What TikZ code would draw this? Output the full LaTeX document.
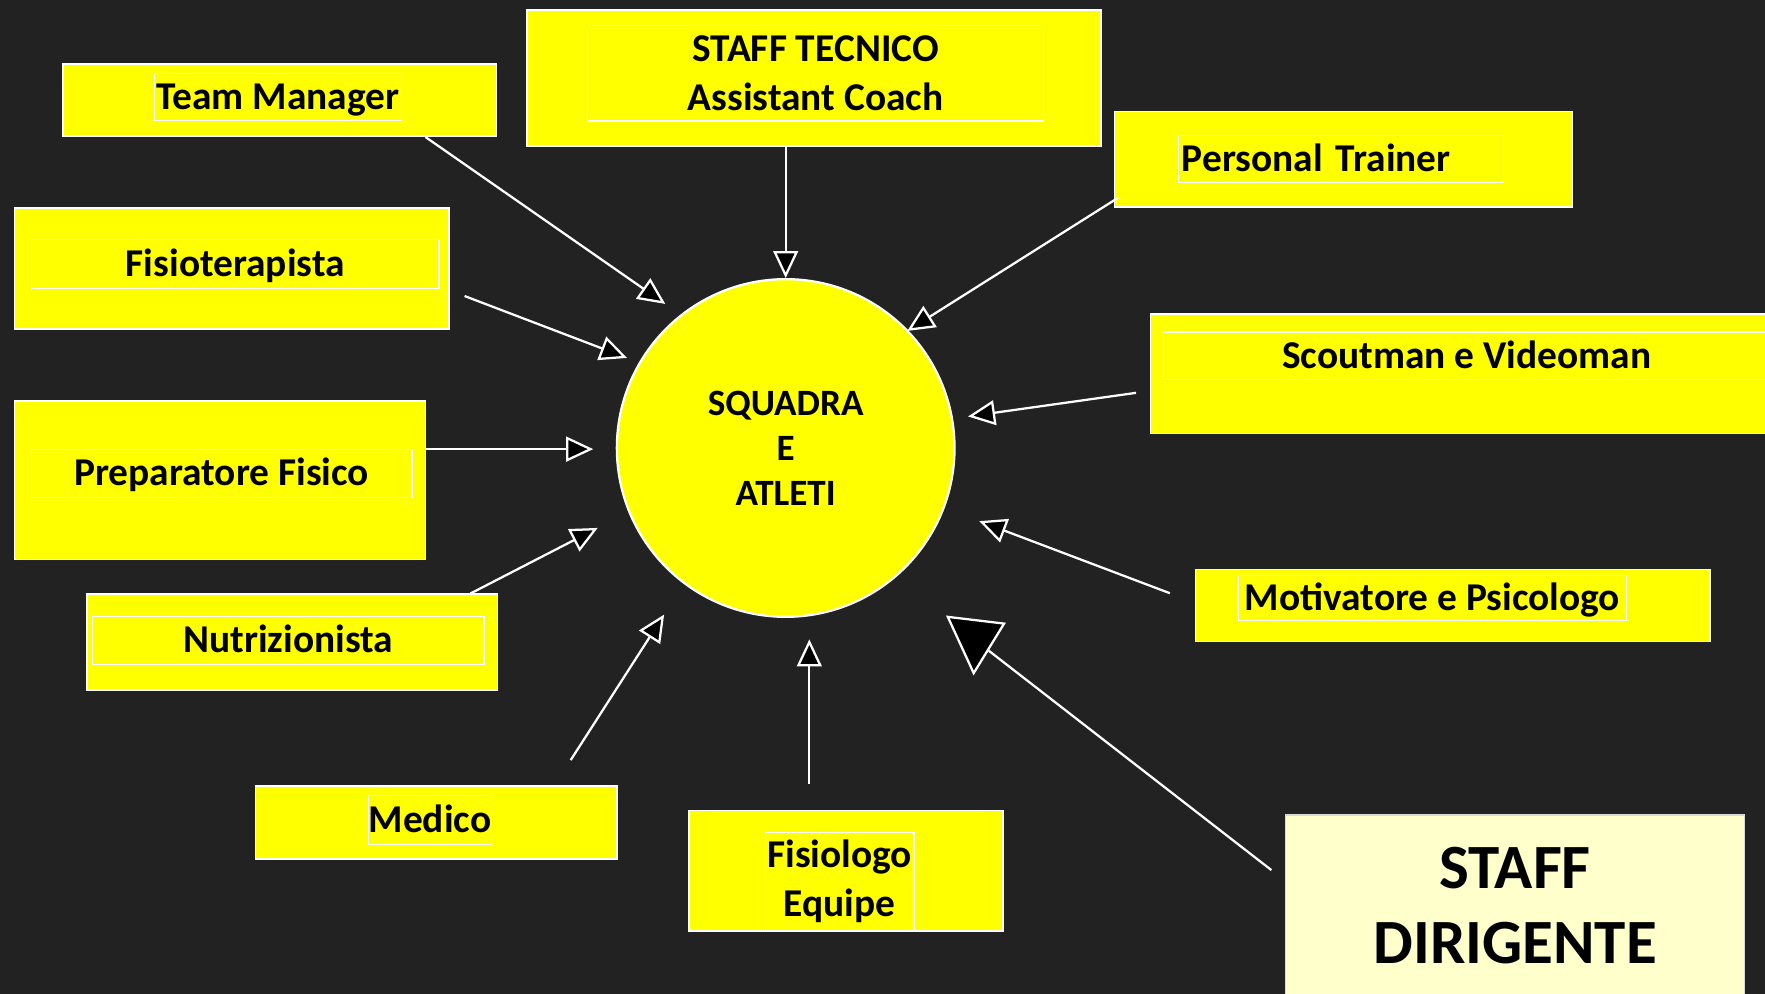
\documentclass[tikz,border=0pt]{standalone}
\usepackage{fontspec}
\setmainfont{Carlito}
\usetikzlibrary{arrows.meta,calc}
\definecolor{board}{RGB}{34,34,34}
\definecolor{postit}{RGB}{255,255,0}
\definecolor{cream}{RGB}{255,255,204}

\begin{document}
\begin{tikzpicture}[x=1pt,y=1pt,
  outer/.style={draw=white,line width=1.5pt,fill=postit,inner sep=0pt},
  inner/.style={draw=white,line width=1pt,inner sep=0pt,font=\fontsize{35}{43}\selectfont\bfseries,align=center},
  oneline/.style={text height=22pt,text depth=0pt},
  hub/.style={circle,draw=white,line width=2pt,fill=postit,minimum size=300pt,inner sep=0pt,font=\fontsize{33}{40}\selectfont\bfseries,align=center},
  pointer/.style={draw=white,line width=2pt,-{Triangle[length=24pt,width=22pt,fill=black]}}]
\useasboundingbox (0,0) rectangle (1568,883);
\fill[board] (0,0) rectangle (1568,883);

\node[outer,minimum width=385pt,minimum height=64pt] (tm) at (248.5,794) {};
\node[inner,oneline,minimum width=220pt,minimum height=42pt] (tm-in) at (247,797) {Team Manager};
\node[outer,minimum width=510pt,minimum height=121pt] (st) at (723,813.5) {};
\node[inner,minimum width=405pt,minimum height=85pt] (st-in) at (724.5,818) {STAFF TECNICO\\Assistant Coach};
\node[outer,minimum width=407pt,minimum height=85pt] (pt) at (1193.5,741.5) {};
\node[inner,oneline,minimum width=289pt,minimum height=42pt,text width=283pt,align=left] (pt-in) at (1191.5,742) {Personal Trainer};
\node[outer,minimum width=386pt,minimum height=107pt] (fisio) at (206,644.5) {};
\node[inner,oneline,minimum width=362pt,minimum height=43pt] (fisio-in) at (209,648.5) {Fisioterapista};
\node[outer,minimum width=578pt,minimum height=106pt] (scout) at (1311,551) {};
\node[inner,oneline,minimum width=538pt,minimum height=42pt] (scout-in) at (1303,567) {Scoutman e Videoman};
\node[outer,minimum width=365pt,minimum height=141pt] (prep) at (195.5,456.5) {};
\node[inner,oneline,minimum width=338pt,minimum height=43pt] (prep-in) at (197,462.5) {Preparatore Fisico};
\node[outer,minimum width=365pt,minimum height=85pt] (nutri) at (259.5,312.5) {};
\node[inner,oneline,minimum width=348pt,minimum height=42pt] (nutri-in) at (256,314) {Nutrizionista};
\node[outer,minimum width=457pt,minimum height=64pt] (motiv) at (1290.5,345) {};
\node[inner,oneline,minimum width=345pt,minimum height=40pt] (motiv-in) at (1272.5,352) {Motivatore e Psicologo};
\node[outer,minimum width=321pt,minimum height=65pt] (medico) at (387.5,152.5) {};
\node[inner,oneline,minimum width=110pt,minimum height=43pt] (medico-in) at (382,154.5) {Medico};
\node[outer,minimum width=279pt,minimum height=107pt] (fisiol) at (751.5,109.5) {};
\node[inner,minimum width=132pt,minimum height=87pt] (fisiol-in) at (746,100) {Fisiologo\\Equipe};
\node[outer,fill=cream,draw=white!85!black,line width=1pt,minimum width=408pt,minimum height=161pt,align=center,font=\fontsize{56}{67}\selectfont\bfseries] (dir) at (1346,78.5) {STAFF\\DIRIGENTE};

\node[hub] (team) at (698,485) {SQUADRA\\E\\ATLETI};

\coordinate (tip-tm) at (591,613);
\coordinate (tip-st) at (698,636);
\coordinate (tip-pt) at (806,589);
\coordinate (tip-fisio) at (557,565);
\coordinate (tip-scout) at (860,513);
\coordinate (tip-prep) at (527,484);
\coordinate (tip-motiv) at (870,420);
\coordinate (tip-nutri) at (531,414);
\coordinate (tip-medico) at (590,337);
\coordinate (tip-fisiol) at (719,315);
\coordinate (tip-dir) at (877,306);

\draw[pointer] ([xshift=129.5pt]tm.south) -- (tip-tm);
\draw[pointer] ([xshift=-25pt]st.south) -- (tip-st);
\draw[pointer] ([shift={(4pt,9pt)}]pt.south west) -- (tip-pt);
\draw[pointer] ([shift={(13pt,-24.5pt)}]fisio.east) -- (tip-fisio);
\draw[pointer] ([shift={(-12pt,-17pt)}]scout.west) -- (tip-scout);
\draw[pointer] ([yshift=27.5pt]prep.east) -- (tip-prep);
\draw[pointer] ([shift={(-22pt,11pt)}]motiv.west) -- (tip-motiv);
\draw[pointer] ([xshift=158.5pt]nutri.north) -- (tip-nutri);
\draw[pointer] ([shift={(119.5pt,22pt)}]medico.north) -- (tip-medico);
\draw[pointer] ([shift={(-32.5pt,23pt)}]fisiol.north) -- (tip-fisiol);
\draw[white,line width=2pt] ([shift={(-12pt,31.5pt)}]dir.west) -- (tip-dir);
\filldraw[fill=black,draw=white,line width=2pt] (842,335) -- (892,329) -- (865,285) -- cycle;

\end{tikzpicture}
\end{document}
